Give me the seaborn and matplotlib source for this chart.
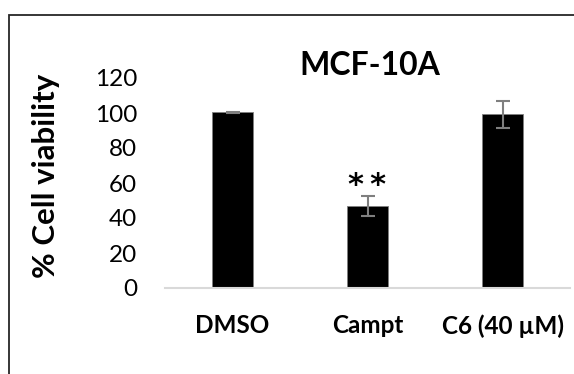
import matplotlib
matplotlib.use("Agg")
import matplotlib.pyplot as plt
from matplotlib.patches import Rectangle
import seaborn as sns
import pandas as pd

# Viability data (mean and error, % of control)
categories = ["DMSO", "Campt", "C6 (40 \u00b5M)"]
viability = [100.3, 47.0, 99.3]
errors = [0.4, 5.6, 7.6]
significance = ["", "*\u2009*", ""]
yticks = [0, 20, 40, 60, 80, 100, 120]

sns.set_theme(style="white")
plt.rcParams["font.family"] = ["Lato", "DejaVu Sans"]

W, H = 574, 374
fig = plt.figure(figsize=(W / 100, H / 100), dpi=100)
fig.patch.set_facecolor("white")

# outer chart frame
fig.patches.append(Rectangle((9 / W, -0.2), 1.5, 1.2 - 15 / H,
                             transform=fig.transFigure, fill=False,
                             edgecolor="#262626", linewidth=1.3))

ax = fig.add_axes([165 / W, 1 - 288 / H, 405 / W, 210 / H])
df = pd.DataFrame({"group": categories, "value": viability})
sns.barplot(data=df, x="group", y="value", ax=ax, color="black",
            width=0.305, edgecolor="#7f7f7f", linewidth=0.6, errorbar=None,
            saturation=1)
ax.errorbar(range(len(categories)), viability, yerr=errors, fmt="none",
            ecolor="#7f7f7f", elinewidth=1.5, capsize=5, capthick=1.5)

for i, s in enumerate(significance):
    if s:
        ax.text(i, viability[i] + errors[i] + 1.1, s, ha="center",
                va="baseline", fontsize=22, fontweight="bold", color="black",
                family="DejaVu Sans")

ax.set_xlim(-0.5, len(categories) - 0.5)
ax.set_ylim(0, 120)
ax.set_yticks(yticks)
ax.set_yticklabels([str(v) for v in yticks], fontsize=17.5, color="black")
ax.set_xticks(range(len(categories)))
ax.set_xticklabels(categories, fontsize=17.5, fontweight="bold", color="black")
ax.tick_params(axis="y", length=0, pad=20)
ax.tick_params(axis="x", length=0, pad=19)
ax.set_xlabel("")
ax.set_ylabel("% Cell viability", fontsize=22.5, fontweight="bold", color="black")
ax.yaxis.set_label_coords(-0.259, 0.533)

for side in ["top", "right", "left"]:
    ax.spines[side].set_visible(False)
ax.spines["bottom"].set_color("#d9d9d9")
ax.spines["bottom"].set_linewidth(1.5)
ax.set_facecolor("none")

fig.text(369.5 / W, 1 - 75 / H, "MCF-10A", ha="center", va="baseline",
         fontsize=23, fontweight="bold", color="black")

fig.savefig("out.png", dpi=100, facecolor="white")
